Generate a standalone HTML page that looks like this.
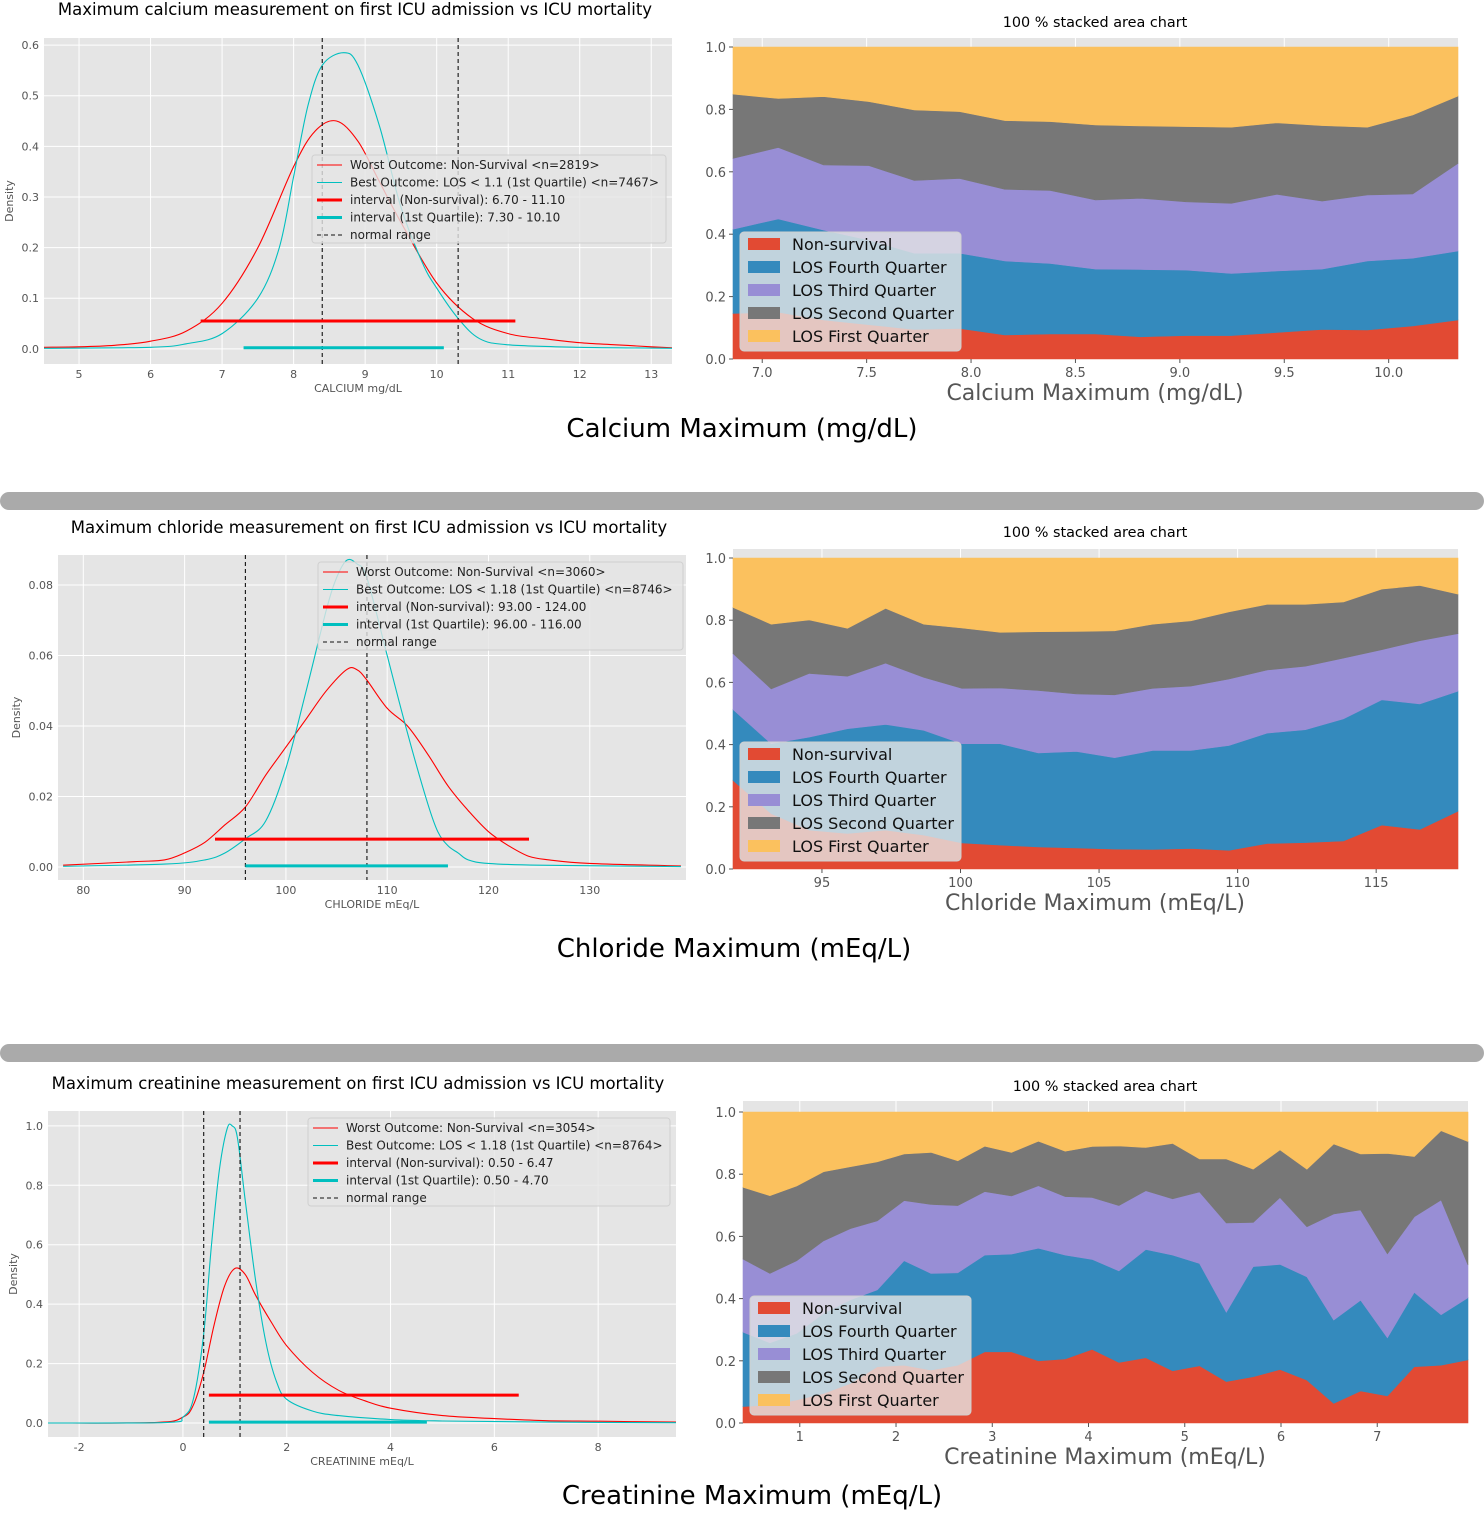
<!DOCTYPE html>
<html><head><meta charset="utf-8"><style>
html,body{margin:0;padding:0;background:#fff;}
svg{display:block;font-family:"DejaVu Sans","Liberation Sans",sans-serif;}
</style></head><body>
<svg id="root" width="1484" height="1540" viewBox="0 0 1484 1540" xmlns="http://www.w3.org/2000/svg"></svg>
<script>
// ---------- DATA ----------
const caRedX=[4.5,5,5.5,6,6.5,7,7.5,8,8.3,8.6,8.9,9.2,9.5,10,10.5,11,11.5,12,12.5,13,13.3];
const caRedY=[0.003,0.004,0.007,0.015,0.035,0.09,0.2,0.36,0.43,0.45,0.41,0.33,0.25,0.13,0.06,0.03,0.02,0.012,0.008,0.004,0.002];
const caCyX=[4.5,6,6.5,7,7.5,7.8,8,8.2,8.4,8.7,8.9,9.2,9.5,9.8,10,10.3,10.6,11,12,13.3];
const caCyY=[0.001,0.003,0.01,0.03,0.1,0.2,0.34,0.48,0.56,0.585,0.56,0.44,0.28,0.17,0.12,0.06,0.02,0.008,0.003,0.001];
const caRedInt=[6.7,11.1], caCyInt=[7.3,10.1], caNormal=[8.4,10.3];
const caXTicks=[5,6,7,8,9,10,11,12,13], caYTicks=[0,0.1,0.2,0.3,0.4,0.5,0.6];
const clRedX=[78,85,88,90,92,94,96,98,100,102,104,106,107,108,110,112,114,116,118,120,122,124,126,130,139];
const clRedY=[0.0005,0.0015,0.002,0.004,0.007,0.012,0.017,0.026,0.034,0.042,0.05,0.056,0.056,0.053,0.045,0.04,0.032,0.023,0.016,0.01,0.006,0.003,0.002,0.001,0.0003];
const clCyX=[78,88,92,94,96,98,100,102,104,105,106,107,108,110,112,114,115,116,117,118,120,125,139];
const clCyY=[0.0002,0.0008,0.002,0.004,0.008,0.013,0.028,0.05,0.073,0.082,0.087,0.086,0.082,0.06,0.038,0.018,0.01,0.006,0.004,0.002,0.001,0.0005,0.0001];
const clRedInt=[93,124], clCyInt=[96,116], clNormal=[96,108];
const clXTicks=[80,90,100,110,120,130], clYTicks=[0,0.02,0.04,0.06,0.08];
const crRedX=[-2.6,-0.5,0,0.2,0.4,0.6,0.8,1.0,1.2,1.4,1.7,2,2.5,3,3.5,4,5,6,7,8,9.5];
const crRedY=[0,0.002,0.02,0.06,0.17,0.33,0.46,0.52,0.5,0.43,0.34,0.26,0.17,0.11,0.075,0.05,0.025,0.015,0.008,0.006,0.003];
const crCyX=[-2.6,-0.3,0,0.2,0.4,0.55,0.7,0.85,0.95,1.05,1.2,1.4,1.6,1.8,2,2.5,3,4,5,7,9.5];
const crCyY=[0,0.002,0.02,0.08,0.3,0.6,0.85,0.99,1.0,0.96,0.75,0.48,0.27,0.14,0.08,0.04,0.025,0.012,0.007,0.003,0.001];
const crRedInt=[0.5,6.47], crCyInt=[0.5,4.7], crNormal=[0.4,1.1];
const crXTicks=[-2,0,2,4,6,8], crYTicks=[0,0.2,0.4,0.6,0.8,1.0];

const caStackX0=6.86, caStackStep=0.217;
const caNonSurvCum=[0.146,0.15,0.125,0.11,0.095,0.098,0.077,0.08,0.08,0.071,0.075,0.075,0.085,0.095,0.093,0.106,0.125];
const caFourthCum=[0.416,0.449,0.413,0.381,0.339,0.339,0.314,0.306,0.288,0.287,0.285,0.274,0.282,0.288,0.314,0.323,0.346];
const caThirdCum=[0.643,0.678,0.622,0.62,0.572,0.579,0.544,0.54,0.51,0.515,0.504,0.499,0.528,0.506,0.526,0.529,0.627];
const caSecondCum=[0.849,0.835,0.841,0.825,0.798,0.793,0.764,0.761,0.75,0.747,0.745,0.743,0.757,0.748,0.743,0.782,0.843];
const caStackXTicks=[7.0,7.5,8.0,8.5,9.0,9.5,10.0];

const clStackX0=91.79, clStackStep=1.377;
const clNonSurvCum=[0.285,0.178,0.125,0.114,0.125,0.109,0.084,0.077,0.071,0.068,0.064,0.063,0.066,0.06,0.082,0.085,0.09,0.141,0.127,0.186];
const clFourthCum=[0.513,0.403,0.424,0.451,0.465,0.446,0.403,0.403,0.373,0.378,0.358,0.381,0.381,0.397,0.437,0.448,0.483,0.544,0.531,0.572];
const clThirdCum=[0.693,0.579,0.629,0.62,0.662,0.616,0.581,0.582,0.574,0.563,0.56,0.581,0.588,0.611,0.64,0.652,0.678,0.705,0.734,0.757];
const clSecondCum=[0.841,0.787,0.801,0.774,0.838,0.787,0.775,0.761,0.763,0.764,0.766,0.787,0.798,0.827,0.851,0.851,0.859,0.9,0.912,0.884];
const clStackXTicks=[95,100,105,110,115];

const crStackX0=0.41, crStackStep=0.279;
const crNonSurvCum=[0.053,0.058,0.074,0.095,0.127,0.181,0.186,0.17,0.186,0.229,0.229,0.2,0.206,0.237,0.195,0.21,0.168,0.184,0.133,0.149,0.172,0.138,0.063,0.103,0.087,0.181,0.186,0.203];
const crFourthCum=[0.292,0.258,0.288,0.353,0.396,0.428,0.522,0.481,0.483,0.54,0.543,0.562,0.54,0.526,0.489,0.558,0.54,0.513,0.356,0.503,0.51,0.47,0.331,0.395,0.274,0.42,0.348,0.403];
const crThirdCum=[0.527,0.481,0.522,0.586,0.625,0.65,0.715,0.703,0.699,0.744,0.73,0.763,0.728,0.725,0.699,0.747,0.721,0.743,0.643,0.645,0.725,0.631,0.672,0.685,0.544,0.663,0.717,0.508];
const crSecondCum=[0.758,0.731,0.762,0.808,0.824,0.84,0.865,0.87,0.843,0.89,0.87,0.906,0.874,0.889,0.891,0.886,0.899,0.849,0.849,0.816,0.878,0.816,0.897,0.865,0.867,0.857,0.94,0.905];
const crStackXTicks=[1,2,3,4,5,6,7];

const stackColors=["#E24A33","#348ABD","#988ED5","#777777","#FBC15E"];
const stackNames=["Non-survival","LOS Fourth Quarter","LOS Third Quarter","LOS Second Quarter","LOS First Quarter"];

// ---------- HELPERS ----------
const NS="http://www.w3.org/2000/svg";
const root=document.getElementById('root');
function mk(tag,attrs,parent){const e=document.createElementNS(NS,tag);for(const k in attrs)e.setAttribute(k,attrs[k]);(parent||root).appendChild(e);return e;}
function txt(s,attrs,parent){const e=mk('text',attrs,parent);e.textContent=s;return e;}
function lin(d0,d1,p0,p1){return v=>p0+(v-d0)/(d1-d0)*(p1-p0);}
function smoothPath(xs,ys,sx,sy){
  const P=xs.map((x,i)=>[sx(x),sy(ys[i])]);
  let d='M'+P[0][0].toFixed(1)+','+P[0][1].toFixed(1);
  for(let i=0;i<P.length-1;i++){
    const p0=P[i-1]||P[i],p1=P[i],p2=P[i+1],p3=P[i+2]||P[i+1];
    const c1=[p1[0]+(p2[0]-p0[0])/6,p1[1]+(p2[1]-p0[1])/6];
    const c2=[p2[0]-(p3[0]-p1[0])/6,p2[1]-(p3[1]-p1[1])/6];
    d+='C'+c1[0].toFixed(1)+','+c1[1].toFixed(1)+' '+c2[0].toFixed(1)+','+c2[1].toFixed(1)+' '+p2[0].toFixed(1)+','+p2[1].toFixed(1);
  }
  return d;
}
let clipId=0;

function drawDensity(c){
  const g=mk('g',{});
  
  
  const sx=lin(c.xmin,c.xmax,c.L,c.R), sy=lin(c.ymin,c.ymax,c.B,c.T);
  const bg=mk('rect',{x:c.L,y:c.T,width:c.R-c.L,height:c.B-c.T,fill:'#E5E5E5'},g);
  
  
  c.xticks.forEach(v=>{
    mk('line',{x1:sx(v),x2:sx(v),y1:c.T,y2:c.B,stroke:'#fff','stroke-width':1},g);
    const t=txt(String(v),{x:sx(v),y:c.B+14,'font-size':11,fill:'#555','text-anchor':'middle'},g);
    
    
  });
  c.yticks.forEach(v=>{
    mk('line',{x1:c.L,x2:c.R,y1:sy(v),y2:sy(v),stroke:'#fff','stroke-width':1},g);
    const t=txt(v.toFixed(c.ydec),{x:c.L-5,y:sy(v)+4,'font-size':11,fill:'#555','text-anchor':'end'},g);
    
    
  });
  const id='clip'+(clipId++);
  const cp=mk('clipPath',{id},g);mk('rect',{x:c.L,y:c.T,width:c.R-c.L,height:c.B-c.T},cp);
  const pg=mk('g',{'clip-path':'url(#'+id+')'},g);
  const rc=mk('path',{d:smoothPath(c.redX,c.redY,sx,sy),fill:'none',stroke:'#ff0000','stroke-width':1.1},pg);
  
  
  const cc=mk('path',{d:smoothPath(c.cyX,c.cyY,sx,sy),fill:'none',stroke:'#00BFBF','stroke-width':1.1},pg);
  
  
  c.normal.forEach(v=>{
    const l=mk('line',{x1:sx(v),x2:sx(v),y1:c.T,y2:c.B,stroke:'#111','stroke-width':1.1,'stroke-dasharray':'4,3'},pg);
    
    
  });
  const ri=mk('line',{x1:sx(c.redInt[0]),x2:sx(c.redInt[1]),y1:sy(c.redIntY),y2:sy(c.redIntY),stroke:'#ff0000','stroke-width':3},pg);
  
  
  const ci=mk('line',{x1:sx(c.cyInt[0]),x2:sx(c.cyInt[1]),y1:sy(c.cyIntY),y2:sy(c.cyIntY),stroke:'#00BFBF','stroke-width':3},pg);
  
  
  const tt=txt(c.title,{x:c.titleX,y:c.titleY,'font-size':16.5,fill:'#000','text-anchor':'middle'},g);
  
  
  const xl=txt(c.xlabel,{x:(c.L+c.R)/2,y:c.B+28,'font-size':11,fill:'#555','text-anchor':'middle'},g);
  
  
  const yl=txt('Density',{x:0,y:0,'font-size':11,fill:'#555','text-anchor':'middle',transform:'translate('+c.ylabX+','+((c.T+c.B)/2)+') rotate(-90)'},g);
  
  
  const lg=mk('g',{},g);
  
  
  mk('rect',{x:c.lg[0],y:c.lg[1],width:c.lg[2],height:88,rx:3,fill:'#E5E5E5','fill-opacity':0.8,stroke:'#d0d0d0'},lg);
  const items=[['#ff0000',1.1,''],['#00BFBF',1.1,''],['#ff0000',3,''],['#00BFBF',3,''],['#111',1.1,'4,3']];
  items.forEach((it,i)=>{
    const y=c.lg[1]+10+i*17.5;
    mk('line',{x1:c.lg[0]+5,x2:c.lg[0]+30,y1:y,y2:y,stroke:it[0],'stroke-width':it[1],'stroke-dasharray':it[2]||'none'},lg);
    const t=txt(c.legTexts[i],{x:c.lg[0]+38,y:y+4,'font-size':12,fill:'#222'},lg);
    
    
  });
}

function drawStack(c){
  const g=mk('g',{});
  
  
  const n=c.cums[0].length;
  const xs=[];for(let i=0;i<n;i++)xs.push(c.x0+i*c.step);
  const xmin=xs[0], xmax=xs[n-1];
  const sx=lin(xmin,xmax,c.L,c.R), sy=lin(0,1,c.B,c.Y1);
  const bg=mk('rect',{x:c.L,y:c.T,width:c.R-c.L,height:c.B-c.T,fill:'#E5E5E5'},g);
  
  
  c.xticks.forEach(v=>{mk('line',{x1:sx(v),x2:sx(v),y1:c.T,y2:c.B,stroke:'#fff'},g);});
  const layers=[...c.cums, xs.map(()=>1)];
  let prev=xs.map(()=>0);
  layers.forEach((top,k)=>{
    let d='M'+sx(xs[0])+','+sy(top[0]);
    for(let i=1;i<n;i++)d+='L'+sx(xs[i]).toFixed(1)+','+sy(top[i]).toFixed(1);
    for(let i=n-1;i>=0;i--)d+='L'+sx(xs[i]).toFixed(1)+','+sy(prev[i]).toFixed(1);
    const p=mk('path',{d:d+'Z',fill:stackColors[k],stroke:stackColors[k],'stroke-width':0.6},g);
    
    
    prev=top;
  });
  c.xticks.forEach(v=>{
    mk('line',{x1:sx(v),x2:sx(v),y1:c.B,y2:c.B+4,stroke:'#555'},g);
    const t=txt(v.toFixed(c.xdec),{x:sx(v),y:c.B+18,'font-size':13,fill:'#555','text-anchor':'middle'},g);
    
    
  });
  [0,0.2,0.4,0.6,0.8,1.0].forEach(v=>{
    mk('line',{x1:c.L-4,x2:c.L,y1:sy(v),y2:sy(v),stroke:'#555'},g);
    const t=txt(v.toFixed(1),{x:c.L-7,y:sy(v)+5,'font-size':13,fill:'#555','text-anchor':'end'},g);
    
    
  });
  const tt=txt('100 % stacked area chart',{x:c.titleX,y:c.titleY,'font-size':14.4,fill:'#000','text-anchor':'middle'},g);
  
  
  const xl=txt(c.xlabel,{x:c.titleX,y:c.B+41,'font-size':22,fill:'#555','text-anchor':'middle'},g);
  
  
  const lg=mk('g',{},g);
  
  
  mk('rect',{x:c.lg[0],y:c.lg[1],width:221,height:119,rx:4,fill:'#E5E5E5','fill-opacity':0.8,stroke:'#d0d0d0'},lg);
  stackNames.forEach((nm,i)=>{
    const y=c.lg[1]+12+i*23;
    mk('rect',{x:c.lg[0]+8,y:y-6,width:32,height:12,fill:stackColors[i]},lg);
    const t=txt(nm,{x:c.lg[0]+52,y:y+6,'font-size':16,fill:'#111'},lg);
    
    
  });
}

function bigLabel(s,x,y){
  const t=txt(s,{x,y,'font-size':26,fill:'#000','text-anchor':'middle'});
  
  
}
function sep(y){
  const r=mk('rect',{x:0,y,width:1484,height:18,rx:9,fill:'#AAAAAA'});
  
  
}

// ---------- DRAW ----------
drawDensity({name:'calcium',L:44,R:672,T:38,B:364,xmin:4.51,xmax:13.29,ymin:-0.03,ymax:0.614,
  xticks:caXTicks,yticks:caYTicks,ydec:1,redX:caRedX,redY:caRedY,cyX:caCyX,cyY:caCyY,
  redInt:caRedInt,cyInt:caCyInt,redIntY:0.055,cyIntY:0.002,normal:caNormal,
  title:'Maximum calcium measurement on first ICU admission vs ICU mortality',titleX:355,titleY:15,
  xlabel:'CALCIUM mg/dL',ylabX:13,lg:[312,155,354],
  legTexts:['Worst Outcome: Non-Survival <n=2819>','Best Outcome: LOS < 1.1 (1st Quartile) <n=7467>','interval (Non-survival): 6.70 - 11.10','interval (1st Quartile): 7.30 - 10.10','normal range']});
drawStack({name:'calcium',L:733,R:1458,T:38,B:359,Y1:47,x0:caStackX0,step:caStackStep,
  cums:[caNonSurvCum,caFourthCum,caThirdCum,caSecondCum],xticks:caStackXTicks,xdec:1,
  titleX:1095,titleY:27,xlabel:'Calcium Maximum (mg/dL)',lg:[740,232]});
bigLabel('Calcium Maximum (mg/dL)',742,437);
sep(492);

drawDensity({name:'chloride',L:58,R:686,T:555,B:880,xmin:77.5,xmax:139.5,ymin:-0.0037,ymax:0.0885,
  xticks:clXTicks,yticks:clYTicks,ydec:2,redX:clRedX,redY:clRedY,cyX:clCyX,cyY:clCyY,
  redInt:clRedInt,cyInt:clCyInt,redIntY:0.0079,cyIntY:0.0003,normal:clNormal,
  title:'Maximum chloride measurement on first ICU admission vs ICU mortality',titleX:369,titleY:533,
  xlabel:'CHLORIDE mEq/L',ylabX:20,lg:[318,562,365],
  legTexts:['Worst Outcome: Non-Survival <n=3060>','Best Outcome: LOS < 1.18 (1st Quartile) <n=8746>','interval (Non-survival): 93.00 - 124.00','interval (1st Quartile): 96.00 - 116.00','normal range']});
drawStack({name:'chloride',L:733,R:1458,T:549,B:869,Y1:558,x0:clStackX0,step:clStackStep,
  cums:[clNonSurvCum,clFourthCum,clThirdCum,clSecondCum],xticks:clStackXTicks,xdec:0,
  titleX:1095,titleY:537,xlabel:'Chloride Maximum (mEq/L)',lg:[740,742]});
bigLabel('Chloride Maximum (mEq/L)',734,957);
sep(1044);

drawDensity({name:'creatinine',L:48,R:676,T:1111,B:1437,xmin:-2.6,xmax:9.5,ymin:-0.047,ymax:1.05,
  xticks:crXTicks,yticks:crYTicks,ydec:1,redX:crRedX,redY:crRedY,cyX:crCyX,cyY:crCyY,
  redInt:crRedInt,cyInt:crCyInt,redIntY:0.094,cyIntY:0.003,normal:crNormal,
  title:'Maximum creatinine measurement on first ICU admission vs ICU mortality',titleX:358,titleY:1089,
  xlabel:'CREATININE mEq/L',ylabX:17,lg:[308,1118,362],
  legTexts:['Worst Outcome: Non-Survival <n=3054>','Best Outcome: LOS < 1.18 (1st Quartile) <n=8764>','interval (Non-survival): 0.50 - 6.47','interval (1st Quartile): 0.50 - 4.70','normal range']});
drawStack({name:'creatinine',L:743,R:1468,T:1101,B:1423,Y1:1112,x0:crStackX0,step:crStackStep,
  cums:[crNonSurvCum,crFourthCum,crThirdCum,crSecondCum],xticks:crStackXTicks,xdec:0,
  titleX:1105,titleY:1091,xlabel:'Creatinine Maximum (mEq/L)',lg:[750,1296]});
bigLabel('Creatinine Maximum (mEq/L)',752,1504);
</script>
</body></html>
